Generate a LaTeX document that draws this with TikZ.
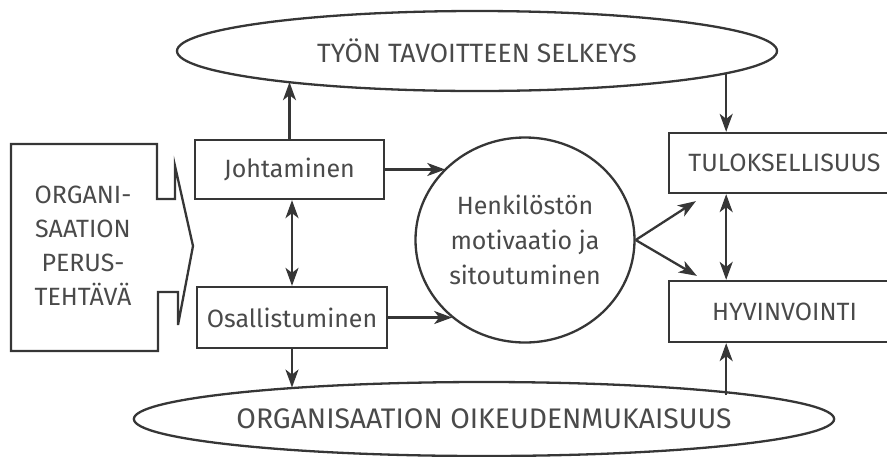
\documentclass[tikz,border=0pt]{standalone}
\usepackage{fontspec}
\setmainfont{Fira Sans}
\usetikzlibrary{arrows.meta}
\usetikzlibrary{calc}
\usetikzlibrary{shapes.geometric}

\definecolor{viiva}{HTML}{363636}
\definecolor{teksti}{HTML}{4A4A4A}

\begin{document}
\begin{tikzpicture}[x=1pt,y=-1pt,line width=2.3pt,
    box/.style={draw=viiva,rectangle,inner sep=0pt,text=teksti,font=\fontsize{25}{30}\selectfont},
    oval/.style={draw=viiva,ellipse,inner sep=0pt,text=teksti},
    arr/.style={draw=viiva,-{Stealth[length=18pt,width=13pt,inset=5pt]}},
    darr/.style={draw=viiva,{Stealth[length=18pt,width=13pt,inset=5pt]}-{Stealth[length=18pt,width=13pt,inset=5pt]}}]
    \useasboundingbox (0,0) rectangle (887,456);
		% ovaalit ylhaalla ja alhaalla
		\node[oval,minimum width=600,minimum height=80,font=\fontsize{26.5}{30}\selectfont] (Sel) at (477,51) {TYÖN TAVOITTEEN SELKEYS};
		\node[oval,minimum width=598,minimum height=74,font=\fontsize{28.3}{30}\selectfont] (Oik) at (484,419) {ORGANISAATION OIKEUDENMUKAISUUS};
		% vasen laatikko
		\draw[draw=viiva] (11,144) -- (157,144) -- (157,199) -- (175,199) -- (175,166) -- (193,246)
				-- (178,325) -- (178,292) -- (158,292) -- (158,351) -- (11,351) -- cycle;
		\node[text=teksti,align=center,font=\fontsize{25}{34}\selectfont] (Org) at (83,246) {ORGANI-\\SAATION\\PERUS-\\TEHTÄVÄ};
		% laatikot
		\node[box,minimum width=189,minimum height=59] (Joh) at (289.5,169.5) {Johtaminen};
		\node[box,minimum width=190,minimum height=61] (Osa) at (292,317.5) {Osallistuminen};
		\node[box,minimum width=231,minimum height=60] (Tul) at (784.5,163) {TULOKSELLISUUS};
		\node[box,minimum width=231,minimum height=61] (Hyv) at (784.5,311.5) {HYVINVOINTI};
		\node[oval,minimum width=219,minimum height=205,align=center,font=\fontsize{25}{35}\selectfont] (Mot) at (525,240)
				{Henkilöstön\\motivaatio ja\\sitoutuminen};
		% apupisteet oikealla
		\coordinate (TulN) at ($(Tul.north west)!0.25!(Tul.north east)$);
		\coordinate (TulS) at ($(Tul.south west)!0.25!(Tul.south east)$);
		\coordinate (HyvN) at ($(Hyv.north west)!0.25!(Hyv.north east)$);
		\coordinate (HyvS) at ($(Hyv.south west)!0.25!(Hyv.south east)$);
		% nuolet
		\draw[arr] (Joh) -- (Joh |- Sel.189.2);
		\draw[darr] (Osa.north) -- (Osa.north |- Joh.south);
		\draw[arr] (Osa.south) -- (Osa.south |- Oik.171.5);
		\draw[arr] (Joh.east) -- (Joh.east -| Mot.138);
		\draw[arr] (Osa.east) -- (Osa.east -| Mot.227);
		\draw[arr] (Mot.east) -- ($(Tul.south west)+(28,7)$);
		\draw[arr] (Mot.east) -- ($(Hyv.north west)+(29,-4)$);
		\draw[arr] (TulN |- Sel.355) -- (TulN);
		\draw[darr] (TulS) -- (HyvN);
		\draw[arr] (HyvS |- Oik.5.1) -- (HyvS);
\end{tikzpicture}
\end{document}
